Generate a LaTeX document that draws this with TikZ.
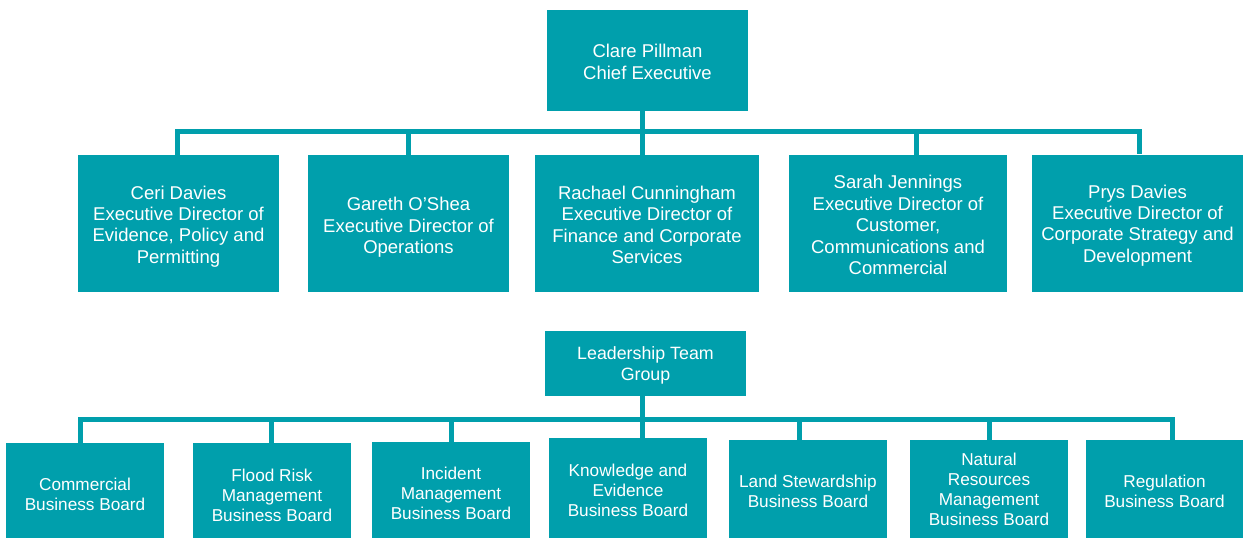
\documentclass[tikz,border=0pt]{standalone}
\usepackage{fontspec}
\setmainfont{Liberation Sans}
\definecolor{teal}{RGB}{0,159,172}
\tikzset{
  box/.style={fill=teal, draw=none, inner sep=0pt},
  txt/.style={text=white, align=center, inner sep=0pt},
  big/.style={font=\fontsize{18.5}{21.4}\selectfont},
  small/.style={font=\fontsize{17.2}{20}\selectfont},
  link/.style={draw=teal, line width=5pt, line cap=butt, line join=miter}
}
\begin{document}
\begin{tikzpicture}[x=1pt,y=-1pt]
\useasboundingbox (0,0) rectangle (1243,538);
% top level boxes
\node[box,minimum width=201pt,minimum height=101pt] (clare) at (647.5,60.5) {};
\node[box,minimum width=201pt,minimum height=137pt] (ceri) at (178.5,223.5) {};
\node[box,minimum width=201pt,minimum height=137pt] (gareth) at (408.5,223.5) {};
\node[box,minimum width=224pt,minimum height=137pt] (rachael) at (647,223.5) {};
\node[box,minimum width=218pt,minimum height=137pt] (sarah) at (898,223.5) {};
\node[box,minimum width=211pt,minimum height=137pt] (prys) at (1137.5,223) {};
\node[txt,big] (clare-t) at ([yshift=-1.5pt]clare.center) {Clare Pillman\\Chief Executive};
\node[txt,big] (ceri-t) at ([yshift=-3pt]ceri.center) {Ceri Davies\\Executive Director of\\Evidence, Policy and\\Permitting};
\node[txt,big] (gareth-t) at ([yshift=-4pt]gareth.center) {Gareth O’Shea\\Executive Director of\\Operations};
\node[txt,big] (rachael-t) at ([yshift=-1.5pt]rachael.center) {Rachael Cunningham\\Executive Director of\\Finance and Corporate\\Services};
\node[txt,big] (sarah-t) at ([yshift=-1.5pt]sarah.center) {Sarah Jennings\\Executive Director of\\Customer,\\Communications and\\Commercial};
\node[txt,big] (prys-t) at ([yshift=-2.5pt]prys.center) {Prys Davies\\Executive Director of\\Corporate Strategy and\\Development};
\coordinate (a1) at (177,131.5);
\coordinate (a2) at (408,131.5);
\coordinate (a3) at (642.5,131.5);
\coordinate (a4) at (916.5,131.5);
\coordinate (a5) at (1139.5,131.5);
\draw[link] (ceri.north -| a1) -- (a1) -- (a5) -- (prys.north -| a5);
\draw[link] (clare.south -| a3) -- (rachael.north -| a3);
\draw[link] (a2) -- (gareth.north -| a2);
\draw[link] (a4) -- (sarah.north -| a4);
% second group boxes
\node[box,minimum width=201pt,minimum height=65pt] (ltg) at (645.5,363.5) {};
\node[box,minimum width=158pt,minimum height=95pt] (comm) at (85,490.5) {};
\node[box,minimum width=158pt,minimum height=95pt] (flood) at (272,490.5) {};
\node[box,minimum width=158pt,minimum height=96pt] (incident) at (451,490) {};
\node[box,minimum width=158pt,minimum height=100pt] (know) at (628,488) {};
\node[box,minimum width=158pt,minimum height=98pt] (land) at (808,489) {};
\node[box,minimum width=158pt,minimum height=98pt] (natural) at (989,489) {};
\node[box,minimum width=158pt,minimum height=98pt] (reg) at (1164.5,489) {};
\node[txt,font=\fontsize{17.8}{20.5}\selectfont] (ltg-t) at ([yshift=-2pt]ltg.center) {Leadership Team\\Group};
\node[txt,small] (comm-t) at ([yshift=-4pt]comm.center) {Commercial\\Business Board};
\node[txt,small] (flood-t) at ([yshift=-5pt]flood.center) {Flood Risk\\Management\\Business Board};
\node[txt,small] (incident-t) at ([yshift=-3pt]incident.center) {Incident\\Management\\Business Board};
\node[txt,small] (know-t) at ([yshift=-2pt]know.center) {Knowledge and\\Evidence\\Business Board};
\node[txt,small] (land-t) at ([yshift=-2.5pt]land.center) {Land Stewardship\\Business Board};
\node[txt,small] (natural-t) at (natural.center) {Natural\\Resources\\Management\\Business Board};
\node[txt,small] (reg-t) at ([yshift=-2.5pt]reg.center) {Regulation\\Business Board};
\coordinate (b1) at (80,419.5);
\coordinate (b2) at (271.5,419.5);
\coordinate (b3) at (451.5,419.5);
\coordinate (b4) at (642.5,419.5);
\coordinate (b5) at (799,419.5);
\coordinate (b6) at (989,419.5);
\coordinate (b7) at (1172,419.5);
\draw[link] (comm.north -| b1) -- (b1) -- (b7) -- (reg.north -| b7);
\draw[link] (ltg.south -| b4) -- (know.north -| b4);
\draw[link] (b2) -- (flood.north -| b2);
\draw[link] (b3) -- (incident.north -| b3);
\draw[link] (b5) -- (land.north -| b5);
\draw[link] (b6) -- (natural.north -| b6);
\end{tikzpicture}
\end{document}
